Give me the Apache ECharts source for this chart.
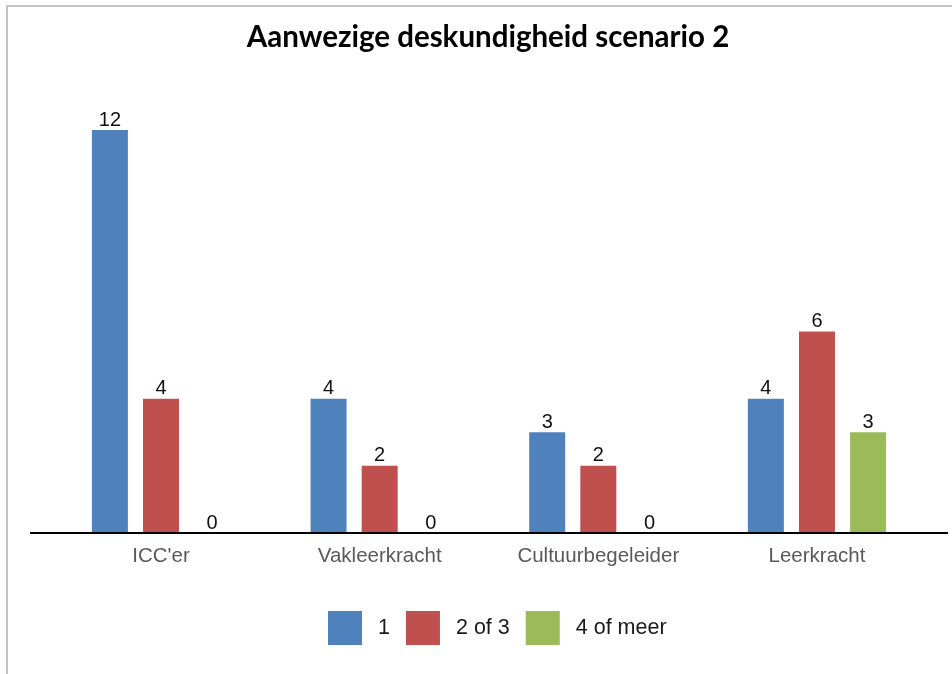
<!DOCTYPE html>
<html>
<head>
<meta charset="utf-8">
<script src="https://cdn.jsdelivr.net/npm/echarts@6/dist/echarts.min.js"></script>
<style>html,body{margin:0;padding:0;background:#fff;}#c{width:952px;height:674px;}</style>
</head>
<body>
<div id="c"></div>
<script>
var categories = ["ICC'er", "Vakleerkracht", "Cultuurbegeleider", "Leerkracht"];
var seriesNames = ["1", "2 of 3", "4 of meer"];
var values1 = [12, 4, 3, 4];
var values23 = [4, 2, 2, 6];
var values4plus = [0, 0, 0, 3];
var colors = ["#4f81bd", "#c0504d", "#9bbb59"];

var chart = echarts.init(document.getElementById('c'), null, {renderer: 'canvas'});
var labelStyle = {show: true, position: 'top', distance: 0, color: '#111', fontSize: 20, fontFamily: 'Liberation Sans'};
function mk(name, data, color) {
  return {name: name, type: 'bar', data: data, barWidth: 36, barGap: '42%',
    itemStyle: {color: color}, label: labelStyle, silent: true};
}
chart.setOption({
  animation: false,
  backgroundColor: '#fff',
  title: {text: 'Aanwezige deskundigheid scenario 2', left: 483, textAlign: 'center', top: 17,
    textStyle: {fontFamily: 'Lato', fontWeight: 'bold', fontSize: 29.5, color: '#000'}},
  graphic: [
    {type: 'rect', shape: {x: 7, y: 6, width: 960, height: 700}, style: {fill: 'none', stroke: '#c3c3c3', lineWidth: 2}, z: 0},
    {type: 'line', shape: {x1: 30, y1: 533, x2: 948, y2: 533}, style: {stroke: '#000', lineWidth: 2}, z: 100}
  ],
  legend: {left: 328, top: 611, padding: 0, itemWidth: 34, itemHeight: 34, itemGap: 16, icon: 'rect',
    textStyle: {fontFamily: 'Liberation Sans', fontSize: 21.5, color: '#1a1a1a', padding: [3, 0, 0, 11]},
    data: seriesNames},
  grid: {left: 51.7, right: 952 - 926.3, top: 130, bottom: 141},
  xAxis: {type: 'category', data: categories, axisLine: {show: false}, axisTick: {show: false},
    axisLabel: {color: '#595959', fontSize: 20.5, fontFamily: 'Liberation Sans', margin: 13}},
  yAxis: {type: 'value', min: 0, max: 12, interval: 2, show: false, splitLine: {show: false}},
  series: [mk(seriesNames[0], values1, colors[0]), mk(seriesNames[1], values23, colors[1]), mk(seriesNames[2], values4plus, colors[2])]
});
</script>
</body>
</html>
